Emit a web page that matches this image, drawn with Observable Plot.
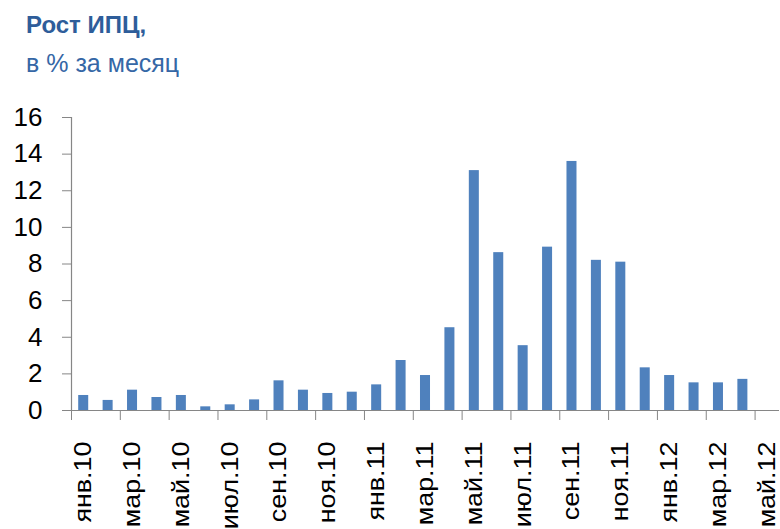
<!DOCTYPE html>
<html>
<head>
<meta charset="utf-8">
<script src="https://cdn.jsdelivr.net/npm/d3@7"></script>
<script src="https://cdn.jsdelivr.net/npm/@observablehq/plot@0.6"></script>
<style>
  html, body { margin: 0; padding: 0; background: #fff; }
  #wrap { width: 780px; height: 529px; overflow: hidden; }
  #head { position: relative; height: 90px; font-family: "Liberation Sans", Arial, sans-serif; }
  #title { position: absolute; left: 26px; top: 13px; font-size: 24px; line-height: 24px; font-weight: bold; color: #2E5D9A; }
  #subtitle { position: absolute; left: 26px; top: 51px; font-size: 25px; line-height: 25px; color: #3567A6; }
</style>
</head>
<body>
<div id="wrap">
  <div id="head">
    <div id="title">Рост ИПЦ,</div>
    <div id="subtitle">в % за месяц</div>
  </div>
  <div id="chart"></div>
</div>
<script>
const months = [
  "янв.10","фев.10","мар.10","апр.10","май.10","июн.10","июл.10","авг.10","сен.10","окт.10","ноя.10","дек.10",
  "янв.11","фев.11","мар.11","апр.11","май.11","июн.11","июл.11","авг.11","сен.11","окт.11","ноя.11","дек.11",
  "янв.12","фев.12","мар.12","апр.12","май.12"
];
const values = [
  0.82, 0.55, 1.11, 0.71, 0.82, 0.2, 0.31, 0.58, 1.62, 1.11, 0.93, 1.0,
  1.4, 2.73, 1.91, 4.52, 13.1, 8.62, 3.54, 8.92, 13.6, 8.2, 8.1, 2.33,
  1.91, 1.51, 1.51, 1.7, null
];
const tickLabels = ["янв.10","мар.10","май.10","июл.10","сен.10","ноя.10","янв.11","мар.11","май.11","июл.11","сен.11","ноя.11","янв.12","мар.12","май.12"];
const yTicks = [0, 2, 4, 6, 8, 10, 12, 14, 16];

const data = months.map((m, i) => ({i, month: m, value: values[i]}));
const bars = data.filter(d => d.value != null);
const labelPos = tickLabels.map(l => months.indexOf(l) + 0.5);
const tickPos = tickLabels.map(l => months.indexOf(l));

const gray = "#868686";

const chart = Plot.plot({
  width: 780,
  height: 439,
  marginLeft: 71,
  marginRight: 1,
  marginTop: 27,
  marginBottom: 119,
  style: {fontFamily: "'Liberation Sans', Arial, sans-serif", color: "#000", background: "transparent", overflow: "visible"},
  x: {type: "linear", domain: [0, months.length], axis: null},
  y: {domain: [0, 16], axis: null},
  marks: [
    Plot.rectY(bars, {x1: d => d.i, x2: d => d.i + 1, y: "value", fill: "#4F81BD", insetLeft: 7.2, insetRight: 7.2}),
    Plot.ruleY([0], {stroke: gray, strokeWidth: 1.2}),
    Plot.ruleX([0], {y1: 0, y2: 16, stroke: gray, strokeWidth: 1.2}),
    Plot.axisY(yTicks, {label: null, tickSize: 9, tickPadding: 20, fontSize: 26, stroke: gray, fill: "#000", tickFormat: d => String(d)}),
    Plot.axisX(tickPos, {label: null, tickSize: 10, stroke: gray, tickFormat: () => ""}),
    Plot.axisX(labelPos, {label: null, tickSize: 0, tickPadding: 31, tickRotate: -90, fontSize: 23, fill: "#000",
      tickFormat: d => months[Math.round(d - 0.5)]})
  ]
});
document.getElementById("chart").appendChild(chart);

// stretch month labels along their reading direction
const monthSet = new Set(months);
chart.querySelectorAll("text").forEach(t => {
  if (monthSet.has(t.textContent)) {
    const tr = t.getAttribute("transform") || "";
    t.setAttribute("transform", tr + " scale(1.17,1)");
  }
});
</script>
</body>
</html>
